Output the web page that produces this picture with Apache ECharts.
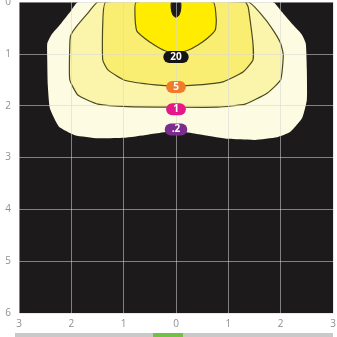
<!DOCTYPE html>
<html>
<head>
<meta charset="utf-8">
<script src="https://cdn.jsdelivr.net/npm/echarts@6/dist/echarts.min.js"></script>
<style>
  html, body { margin: 0; padding: 0; background: #ffffff; }
  #chart { width: 337px; height: 337px; }
</style>
</head>
<body>
<div id="chart"></div>
<script>
// Tick labels (distance in metres from the luminaire axis)
const xTickLabels = ['3', '2', '1', '0', '1', '2', '3'];
const yTickLabels = ['0', '1', '2', '3', '4', '5', '6'];

// Isolux contours, outermost first: [lateral offset, distance]
const contour02 = [[-1.87,0],[-2.02,0.19],[-2.2,0.42],[-2.38,0.63],[-2.46,0.8],[-2.46,1.12],[-2.45,1.6],[-2.41,2.05],[-2.24,2.4],[-1.93,2.57],[-1.49,2.63],[-1.0,2.62],[-0.54,2.56],[0,2.49],[0.54,2.57],[1.0,2.64],[1.51,2.66],[1.93,2.61],[2.18,2.51],[2.41,2.24],[2.5,1.89],[2.5,1.3],[2.48,0.8],[2.4,0.62],[2.2,0.4],[2.02,0.19],[1.85,0]];
const contour1 = [[-1.49,0],[-1.68,0.21],[-1.9,0.47],[-2.01,0.64],[-2.03,0.83],[-2.03,1.5],[-1.87,1.8],[-1.49,1.97],[-0.92,2.02],[0,2.03],[0.8,2.03],[1.32,1.97],[1.74,1.76],[2.0,1.5],[2.05,1.02],[2.0,0.8],[1.88,0.58],[1.68,0.3],[1.38,0]];
const contour5 = [[-1.34,0],[-1.40,0.44],[-1.40,1.12],[-1.30,1.31],[-0.98,1.51],[-0.40,1.6],[0,1.62],[0.42,1.6],[0.90,1.54],[1.28,1.35],[1.47,1.12],[1.47,0.79],[1.38,0.1],[1.32,0]];
const contour20 = [[-0.76,0],[-0.78,0.35],[-0.75,0.56],[-0.6,0.7],[-0.4,0.84],[-0.21,0.94],[0,0.99],[0.23,0.93],[0.42,0.83],[0.6,0.7],[0.75,0.54],[0.77,0.35],[0.71,0]];
const contourPeak = [[-0.08,0],[-0.09,0.12],[-0.06,0.24],[0,0.29],[0.06,0.24],[0.09,0.12],[0.08,0]];

// Level badges
const levelNames = ['.2', '1', '5', '20'];
const levelLabelY = [2.46, 2.07, 1.64, 1.06];

const contours = [contour02, contour1, contour5, contour20, contourPeak];
const contourFills = ['#fdfbe2', '#fbf4ab', '#f9ee72', '#ffec00', '#1c1a1a'];
const contourStrokes = [null, '#4b4a1e', '#4b4a1e', '#4b4a1e', '#1c1a1a'];
const badgeColors = ['#7b2d8e', '#e5188a', '#f07b2b', '#151414'];

const chart = echarts.init(document.getElementById('chart'), null, { renderer: 'canvas' });

const axisLabelStyle = {
  color: '#8f8f8f',
  fontSize: 10,
  fontFamily: '"Open Sans", "Liberation Sans", sans-serif'
};

chart.setOption({
  animation: false,
  grid: {
    left: 19, right: 4, top: 2, bottom: 24,
    show: true,
    backgroundColor: '#1c1a1a',
    borderWidth: 0,
    outerBoundsMode: 'none',
    containLabel: false
  },
  xAxis: {
    type: 'value',
    min: -3, max: 3, interval: 1,
    z: 3,
    axisLine: { show: false },
    axisTick: { show: false },
    axisLabel: Object.assign({
      margin: 6,
      formatter: function (v) { return xTickLabels[Math.round(v) + 3]; }
    }, axisLabelStyle),
    splitLine: { show: true, lineStyle: { color: 'rgba(215,215,215,0.55)', width: 1 } }
  },
  yAxis: {
    type: 'value',
    min: 0, max: 6, interval: 1,
    inverse: true,
    z: 3,
    axisLine: { show: false },
    axisTick: { show: false },
    axisLabel: Object.assign({
      margin: 8,
      formatter: function (v) { return yTickLabels[Math.round(v)]; }
    }, axisLabelStyle),
    splitLine: { show: true, lineStyle: { color: 'rgba(215,215,215,0.55)', width: 1 } }
  },
  graphic: [
    { type: 'rect', shape: { x: 15, y: 333, width: 318, height: 6 }, style: { fill: '#c9c9c9' } },
    { type: 'rect', shape: { x: 153, y: 333, width: 30, height: 6 }, style: { fill: '#72c045' } }
  ],
  series: [
    {
      type: 'custom',
      z: 2,
      clip: true,
      data: contours.map(function (c, i) { return [i]; }),
      renderItem: function (params, api) {
        const idx = api.value(0);
        const pts = contours[idx].map(function (p) { return api.coord(p); });
        return {
          type: 'polygon',
          shape: { points: pts, smooth: 0.15 },
          style: {
            fill: contourFills[idx],
            stroke: contourStrokes[idx] || 'none',
            lineWidth: contourStrokes[idx] ? 1.2 : 0
          }
        };
      }
    },
    {
      type: 'scatter',
      z: 5,
      symbolSize: 0,
      itemStyle: { opacity: 1 },
      emphasis: { disabled: true },
      data: levelNames.map(function (name, i) {
        return {
          value: [0, levelLabelY[i]],
          name: name,
          label: { backgroundColor: badgeColors[i] }
        };
      }),
      label: {
        show: true,
        position: 'inside',
        formatter: '{b}',
        color: '#ffffff',
        opacity: 1,
        fontSize: 10,
        fontWeight: 'bold',
        fontFamily: '"Open Sans", "Liberation Sans", sans-serif',
        padding: [0, 7, 0, 7],
        borderRadius: 6,
        lineHeight: 12
      }
    }
  ]
});
</script>
</body>
</html>
